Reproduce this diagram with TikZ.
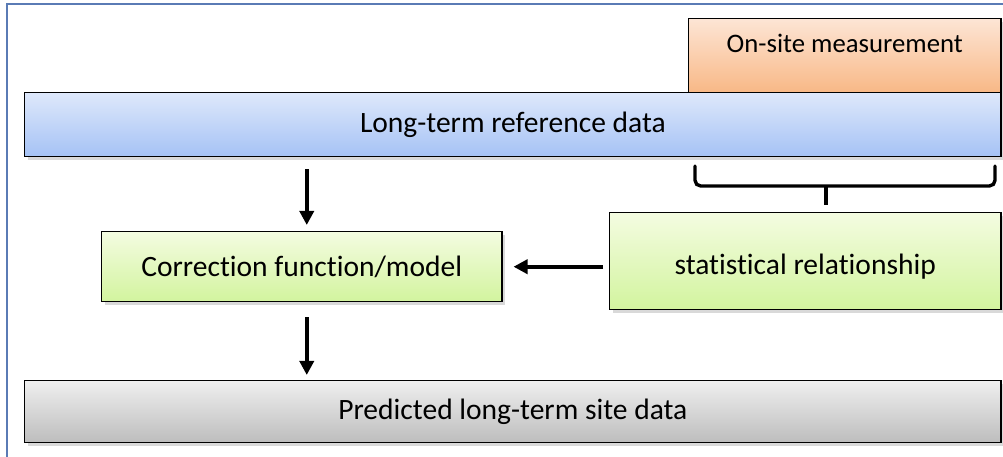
\documentclass[tikz,border=0pt]{standalone}
\usepackage{fontspec}
\setmainfont[Ligatures=NoCommon]{Carlito}
\usetikzlibrary{arrows.meta,shadows,positioning}

\definecolor{framecol}{HTML}{5A7BB5}
\definecolor{orangetop}{HTML}{FDE5D5}
\definecolor{orangebot}{HTML}{F8B886}
\definecolor{bluetop}{HTML}{DEE8FB}
\definecolor{bluebot}{HTML}{A5C2F5}
\definecolor{greentop}{HTML}{F4FCE1}
\definecolor{greenbot}{HTML}{D2F49E}
\definecolor{greytop}{HTML}{EFEFEF}
\definecolor{greybot}{HTML}{BDBDBD}

\begin{document}
\begin{tikzpicture}[x=0.025cm, y=0.025cm, font=\fontsize{21}{24}\selectfont,
	box/.style={draw=black, line width=1pt, anchor=north west, inner sep=0pt,
		drop shadow={opacity=0.3, shadow xshift=2pt, shadow yshift=-2pt}},
	flow/.style={-{Triangle[length=10pt, width=10pt]}, line width=2.6pt},
	bracket/.style={line width=2.4pt, rounded corners=4pt, line cap=round}]
	% khung va vung ve
	\useasboundingbox (0,0) rectangle (1003,-457);
	\draw[framecol, line width=1.1pt] (7,-457) -- (7,-4) -- (1003,-4);
	
	% cac khoi du lieu
	\node[box, top color=orangetop, bottom color=orangebot, minimum width=7.8cm,
		minimum height=1.85cm, text depth=0.6cm, font=\fontsize{19}{22}\selectfont] (onsite) at (688,-18) {On-site measurement};
	\node[box, top color=bluetop, bottom color=bluebot, minimum width=24.4cm,
		minimum height=1.6cm] (ref) at (24,-92) {Long-term reference data};
	\node[box, top color=greentop, bottom color=greenbot, minimum width=10cm,
		minimum height=1.75cm] (corr) at (101,-231) {Correction function/model};
	\node[box, top color=greentop, bottom color=greenbot, minimum width=9.775cm,
		minimum height=2.425cm, text height=0.8cm] (stat) at (609,-212) {statistical relationship};
	\node[box, top color=greytop, bottom color=greybot, minimum width=24.4cm,
		minimum height=1.55cm] (pred) at (24,-380) {Predicted long-term site data};
	
	% ngoac duoi phan do tai cho
	\draw[bracket] (695,-166) -- (695,-186) -- (995,-186) -- (995,-166);
	\coordinate (tip) at (826,-205);
	\draw[line width=2.6pt] (826,-186) -- (tip);
	
	% cac mui ten
	\draw[flow, shorten <=0.3cm, shorten >=0.15cm] ([xshift=0.125cm]corr.north |- ref.south) -- ([xshift=0.125cm]corr.north);
	\draw[flow, shorten <=0.15cm, shorten >=0.275cm] (stat.west |- corr.east) -- (corr.east);
	\draw[flow, shorten <=0.375cm, shorten >=0.125cm] ([xshift=0.125cm]corr.south) -- ([xshift=0.125cm]corr.south |- pred.north);
\end{tikzpicture}
\end{document}
